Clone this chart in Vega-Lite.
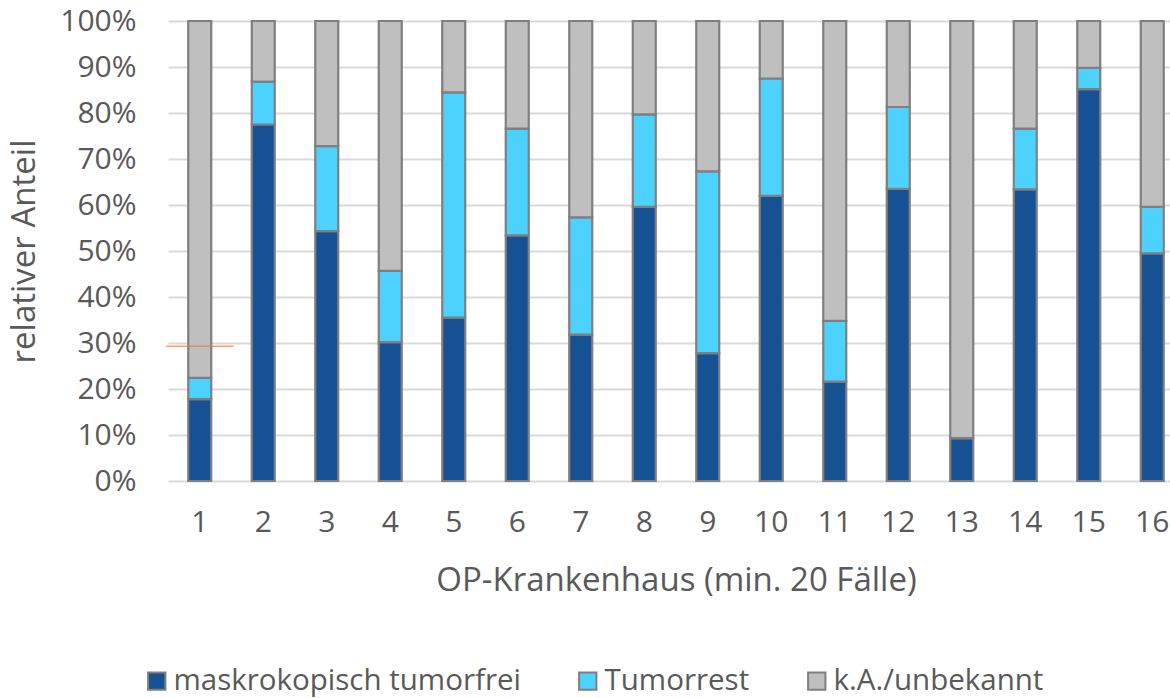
{
  "$schema": "https://vega.github.io/schema/vega-lite/v6.json",
  "autosize": {"type": "none"},
  "width": 1002,
  "height": 460,
  "padding": {"left": 168, "top": 21, "right": 0, "bottom": 217},
  "background": "white",
  "config": {
    "view": {"stroke": null},
    "font": "Open Sans",
    "axis": {"labelFont": "Open Sans", "titleFont": "Open Sans", "labelColor": "#595959", "titleColor": "#595959", "titleFontWeight": "normal"},
    "legend": {"labelFont": "Open Sans"}
  },
  "datasets": {
    "bars": [
      {"haus": "1", "kategorie": "maskrokopisch tumorfrei", "rang": 1, "anteil": 0.178},
      {"haus": "1", "kategorie": "Tumorrest", "rang": 2, "anteil": 0.046},
      {"haus": "1", "kategorie": "k.A./unbekannt", "rang": 3, "anteil": 0.776},
      {"haus": "2", "kategorie": "maskrokopisch tumorfrei", "rang": 1, "anteil": 0.775},
      {"haus": "2", "kategorie": "Tumorrest", "rang": 2, "anteil": 0.093},
      {"haus": "2", "kategorie": "k.A./unbekannt", "rang": 3, "anteil": 0.132},
      {"haus": "3", "kategorie": "maskrokopisch tumorfrei", "rang": 1, "anteil": 0.543},
      {"haus": "3", "kategorie": "Tumorrest", "rang": 2, "anteil": 0.185},
      {"haus": "3", "kategorie": "k.A./unbekannt", "rang": 3, "anteil": 0.272},
      {"haus": "4", "kategorie": "maskrokopisch tumorfrei", "rang": 1, "anteil": 0.302},
      {"haus": "4", "kategorie": "Tumorrest", "rang": 2, "anteil": 0.155},
      {"haus": "4", "kategorie": "k.A./unbekannt", "rang": 3, "anteil": 0.543},
      {"haus": "5", "kategorie": "maskrokopisch tumorfrei", "rang": 1, "anteil": 0.355},
      {"haus": "5", "kategorie": "Tumorrest", "rang": 2, "anteil": 0.490},
      {"haus": "5", "kategorie": "k.A./unbekannt", "rang": 3, "anteil": 0.155},
      {"haus": "6", "kategorie": "maskrokopisch tumorfrei", "rang": 1, "anteil": 0.534},
      {"haus": "6", "kategorie": "Tumorrest", "rang": 2, "anteil": 0.232},
      {"haus": "6", "kategorie": "k.A./unbekannt", "rang": 3, "anteil": 0.234},
      {"haus": "7", "kategorie": "maskrokopisch tumorfrei", "rang": 1, "anteil": 0.318},
      {"haus": "7", "kategorie": "Tumorrest", "rang": 2, "anteil": 0.255},
      {"haus": "7", "kategorie": "k.A./unbekannt", "rang": 3, "anteil": 0.427},
      {"haus": "8", "kategorie": "maskrokopisch tumorfrei", "rang": 1, "anteil": 0.596},
      {"haus": "8", "kategorie": "Tumorrest", "rang": 2, "anteil": 0.201},
      {"haus": "8", "kategorie": "k.A./unbekannt", "rang": 3, "anteil": 0.203},
      {"haus": "9", "kategorie": "maskrokopisch tumorfrei", "rang": 1, "anteil": 0.278},
      {"haus": "9", "kategorie": "Tumorrest", "rang": 2, "anteil": 0.395},
      {"haus": "9", "kategorie": "k.A./unbekannt", "rang": 3, "anteil": 0.327},
      {"haus": "10", "kategorie": "maskrokopisch tumorfrei", "rang": 1, "anteil": 0.620},
      {"haus": "10", "kategorie": "Tumorrest", "rang": 2, "anteil": 0.255},
      {"haus": "10", "kategorie": "k.A./unbekannt", "rang": 3, "anteil": 0.125},
      {"haus": "11", "kategorie": "maskrokopisch tumorfrei", "rang": 1, "anteil": 0.216},
      {"haus": "11", "kategorie": "Tumorrest", "rang": 2, "anteil": 0.132},
      {"haus": "11", "kategorie": "k.A./unbekannt", "rang": 3, "anteil": 0.652},
      {"haus": "12", "kategorie": "maskrokopisch tumorfrei", "rang": 1, "anteil": 0.635},
      {"haus": "12", "kategorie": "Tumorrest", "rang": 2, "anteil": 0.178},
      {"haus": "12", "kategorie": "k.A./unbekannt", "rang": 3, "anteil": 0.187},
      {"haus": "13", "kategorie": "maskrokopisch tumorfrei", "rang": 1, "anteil": 0.093},
      {"haus": "13", "kategorie": "Tumorrest", "rang": 2, "anteil": 0.0},
      {"haus": "13", "kategorie": "k.A./unbekannt", "rang": 3, "anteil": 0.907},
      {"haus": "14", "kategorie": "maskrokopisch tumorfrei", "rang": 1, "anteil": 0.634},
      {"haus": "14", "kategorie": "Tumorrest", "rang": 2, "anteil": 0.132},
      {"haus": "14", "kategorie": "k.A./unbekannt", "rang": 3, "anteil": 0.234},
      {"haus": "15", "kategorie": "maskrokopisch tumorfrei", "rang": 1, "anteil": 0.852},
      {"haus": "15", "kategorie": "Tumorrest", "rang": 2, "anteil": 0.046},
      {"haus": "15", "kategorie": "k.A./unbekannt", "rang": 3, "anteil": 0.102},
      {"haus": "16", "kategorie": "maskrokopisch tumorfrei", "rang": 1, "anteil": 0.495},
      {"haus": "16", "kategorie": "Tumorrest", "rang": 2, "anteil": 0.101},
      {"haus": "16", "kategorie": "k.A./unbekannt", "rang": 3, "anteil": 0.404}
    ],
    "marke": [
      {"haus": "1", "wert": 0.293}
    ]
  },
  "layer": [
    {
      "data": {"name": "bars"},
      "mark": {"type": "bar", "stroke": "#7F7F7F", "strokeWidth": 2.2},
      "encoding": {
        "x": {
          "field": "haus", "type": "ordinal", "sort": null,
          "scale": {
            "domain": ["1", "2", "3", "4", "5", "6", "7", "8", "9", "10", "11", "12", "13", "14", "15", "16"],
            "range": [0, 1016], "paddingInner": 0.638, "paddingOuter": 0.319
          },
          "axis": {
            "title": "OP-Krankenhaus (min. 20 Fälle)",
            "titleFontSize": 33, "titlePadding": 27,
            "labelFontSize": 30, "labelAngle": 0, "labelPadding": 26,
            "domain": false, "ticks": false, "grid": false
          }
        },
        "y": {
          "field": "anteil", "type": "quantitative", "stack": "zero",
          "scale": {"domain": [0, 1], "nice": false},
          "axis": {
            "title": "relativer Anteil",
            "titleFontSize": 33, "titlePadding": 18,
            "format": ".0%",
            "values": [0, 0.1, 0.2, 0.3, 0.4, 0.5, 0.6, 0.7, 0.8, 0.9, 1],
            "labelFontSize": 30, "labelPadding": 32,
            "domain": false, "ticks": false,
            "grid": true, "gridColor": "#D9D9D9", "gridWidth": 2
          }
        },
        "color": {
          "field": "kategorie", "type": "nominal",
          "scale": {
            "domain": ["maskrokopisch tumorfrei", "Tumorrest", "k.A./unbekannt"],
            "range": ["#155193", "#4DD2FF", "#BFBFBF"]
          },
          "legend": {
            "title": null, "orient": "none", "direction": "horizontal",
            "legendX": -26, "legendY": 645,
            "symbolType": "square", "symbolSize": 300,
            "symbolStrokeColor": "#7F7F7F", "symbolStrokeWidth": 2,
            "labelFontSize": 29.5, "labelColor": "#595959", "labelLimit": 500,
            "labelOffset": 2, "columnPadding": 52
          }
        },
        "order": {"field": "rang", "type": "quantitative"}
      }
    },
    {
      "data": {"name": "marke"},
      "mark": {"type": "tick", "color": "#ED7D31", "thickness": 1.5, "size": 68},
      "encoding": {
        "x": {"field": "haus", "type": "ordinal"},
        "y": {"field": "wert", "type": "quantitative"}
      }
    }
  ]
}
